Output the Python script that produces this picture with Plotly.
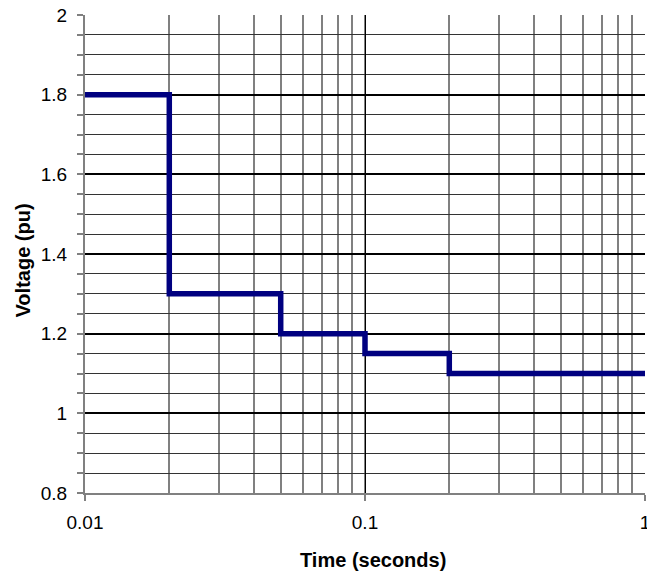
import plotly.graph_objects as go

time_s = [0.01, 0.02, 0.05, 0.1, 0.2, 1.0]
voltage_pu = [1.8, 1.3, 1.2, 1.15, 1.1, 1.1]
x_tick_vals = [0.01, 0.1, 1]
x_tick_text = ["0.01", "0.1", "1"]

fig = go.Figure()
fig.add_trace(go.Scatter(
    x=time_s, y=voltage_pu, mode="lines", line_shape="hv",
    line=dict(color="#000080", width=5.5), showlegend=False,
))

font = "Liberation Sans, Arial, sans-serif"
fig.update_layout(
    width=647, height=575,
    margin=dict(l=85, r=2, t=15, b=82),
    paper_bgcolor="white", plot_bgcolor="white",
    font=dict(family=font, color="black", size=19),
)
fig.update_xaxes(
    type="log", range=[-2, 0],
    tickvals=x_tick_vals, ticktext=x_tick_text,
    showgrid=True, gridcolor="black", gridwidth=1.2,
    minor=dict(showgrid=True, dtick="D1", gridcolor="#808080", gridwidth=1.5, ticks=""),
    showline=True, linecolor="#808080", linewidth=2,
    ticks="outside", ticklen=6, tickcolor="#808080", tickwidth=1.5,
    ticklabelstandoff=5, ticklabeloverflow="allow",
    zeroline=False, automargin=False,
)
fig.update_yaxes(
    range=[0.8, 2.0], dtick=0.2, tickformat="~g",
    showgrid=True, gridcolor="black", gridwidth=1.8,
    minor=dict(showgrid=True, dtick=0.05, gridcolor="#333333", gridwidth=1,
               ticks="outside", ticklen=6, tickcolor="#808080", tickwidth=1.5),
    showline=True, linecolor="#808080", linewidth=2,
    ticks="outside", ticklen=6, tickcolor="#808080", tickwidth=1.5,
    ticklabelstandoff=6,
    zeroline=False, automargin=False,
)
fig.add_annotation(text="<b>Time (seconds)</b>", xref="paper", yref="paper",
                   x=(373.5 - 85) / 560, y=(493 - 560) / 478, showarrow=False,
                   font=dict(size=20), xanchor="center", yanchor="middle")
fig.add_annotation(text="<b>Voltage (pu)</b>", xref="paper", yref="paper",
                   x=(22.5 - 85) / 560, y=(493 - 261) / 478, showarrow=False,
                   font=dict(size=20), textangle=-90,
                   xanchor="center", yanchor="middle")
fig.write_html("out.html", config={"displayModeBar": False},
               post_script="document.body.style.margin='0';document.body.style.overflow='hidden';")
